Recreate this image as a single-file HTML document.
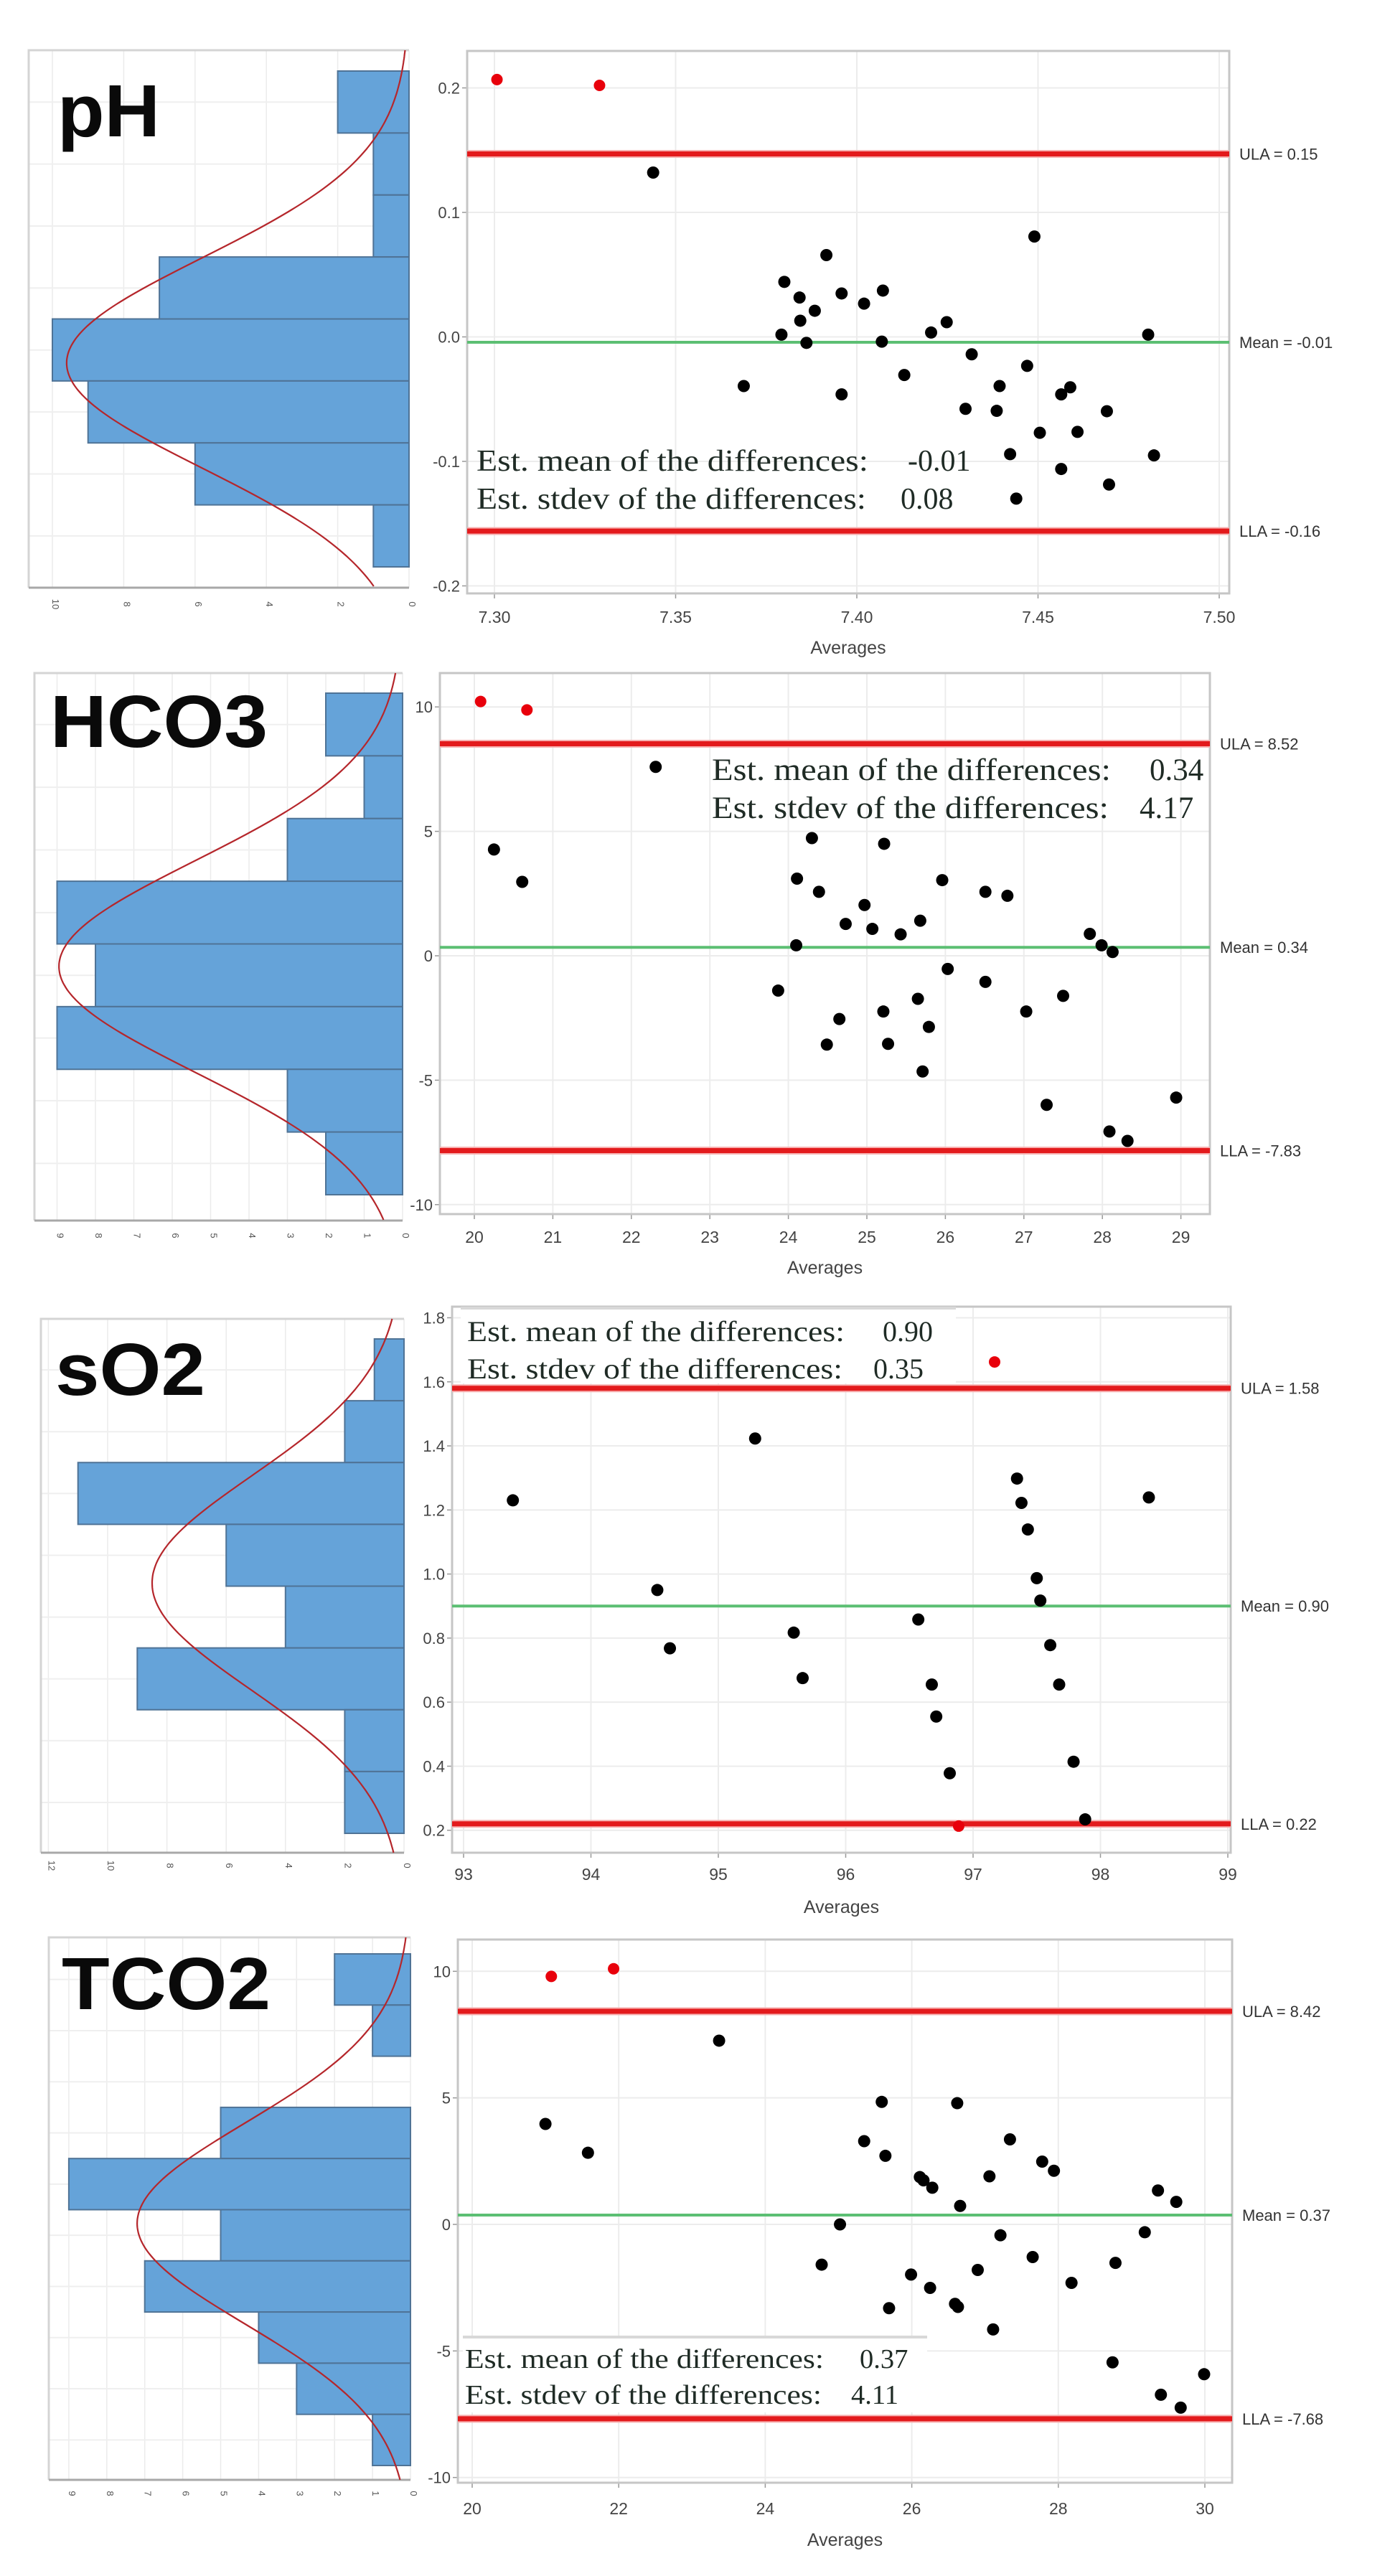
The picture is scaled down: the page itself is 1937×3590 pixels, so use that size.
<!DOCTYPE html>
<html><head><meta charset="utf-8">
<style>
html,body{margin:0;padding:0;background:#fff;}
svg{display:block;}
text{font-family:"Liberation Sans",sans-serif;}
text.serif{font-family:"Liberation Serif",serif;}
</style></head>
<body>
<svg id="chart" xmlns="http://www.w3.org/2000/svg" width="1937" height="3590" viewBox="0 0 1937 3590"></svg>
<script>
// ---------- DATA ----------
// pH
const phX = [7.3438,7.449,7.3916,7.380,7.3958,7.4072,7.3842,7.402,7.3884,7.3844,7.4248,7.3792,7.4205,7.4804,7.3861,7.4069,7.4317,7.447,7.4131,7.3688,7.3958,7.4394,7.4589,7.4564,7.43,7.4386,7.469,7.4505,7.4609,7.4423,7.482,7.4564,7.4696,7.444];
const phY = [0.132,0.0806,0.0657,0.0442,0.0349,0.0372,0.0316,0.0267,0.021,0.013,0.0118,0.0018,0.0035,0.0018,-0.0048,-0.0038,-0.014,-0.0233,-0.0306,-0.0395,-0.0462,-0.0395,-0.0405,-0.0462,-0.0578,-0.0594,-0.0597,-0.077,-0.0763,-0.0942,-0.0952,-0.1061,-0.1186,-0.1299];
const phRedX = [7.3007,7.329];
const phRedY = [0.2067,0.202];
const phLimits = [0.147,-0.0043,-0.156];
const phLimitLabels = ["ULA = 0.15","Mean = -0.01","LLA = -0.16"];
const phCounts = [2,1,1,7,10,9,6,1];
const phCurve = [4.71,1.69,9.6];
const phXTicks = [7.30,7.35,7.40,7.45,7.50];
const phXTickLabels = ["7.30","7.35","7.40","7.45","7.50"];
const phYTicks = [0.2,0.1,0.0,-0.1,-0.2];
const phYTickLabels = ["0.2","0.1","0.0","-0.1","-0.2"];
const phHistTicks = [0,2,4,6,8,10];
const phStats = ["-0.01","0.08"];

// HCO3
const hcX = [22.31,20.25,20.61,24.30,25.22,24.11,25.96,24.39,26.51,26.79,24.97,24.73,25.07,25.68,25.43,27.84,24.10,27.99,28.13,26.03,26.51,23.87,25.65,27.50,25.21,27.03,24.65,25.79,24.49,25.27,25.71,27.29,28.94,28.09,28.32];
const hcY = [7.59,4.27,2.97,4.73,4.50,3.10,3.04,2.57,2.57,2.41,2.04,1.28,1.08,1.41,0.86,0.88,0.42,0.42,0.15,-0.53,-1.05,-1.40,-1.73,-1.61,-2.24,-2.24,-2.54,-2.86,-3.57,-3.54,-4.65,-5.99,-5.70,-7.06,-7.44];
const hcRedX = [20.08,20.67];
const hcRedY = [10.22,9.88];
const hcLimits = [8.52,0.34,-7.83];
const hcLimitLabels = ["ULA = 8.52","Mean = 0.34","LLA = -7.83"];
const hcCounts = [2,1,3,9,8,9,3,2];
const hcCurve = [4.36,1.68,8.95];
const hcXTicks = [20,21,22,23,24,25,26,27,28,29];
const hcXTickLabels = ["20","21","22","23","24","25","26","27","28","29"];
const hcYTicks = [10,5,0,-5,-10];
const hcYTickLabels = ["10","5","0","-5","-10"];
const hcHistTicks = [0,1,2,3,4,5,6,7,8,9];
const hcStats = ["0.34","4.17"];

// sO2
const soX = [95.289,93.387,97.345,97.380,98.380,97.430,97.500,94.521,97.528,96.570,95.592,94.620,97.606,95.662,96.676,97.676,96.711,97.789,96.817,97.880];
const soY = [1.423,1.230,1.298,1.222,1.239,1.139,0.987,0.950,0.917,0.858,0.817,0.768,0.778,0.675,0.655,0.655,0.555,0.414,0.378,0.234];
const soRedX = [97.169,96.887];
const soRedY = [1.662,0.213];
const soLimits = [1.58,0.90,0.22];
const soLimitLabels = ["ULA = 1.58","Mean = 0.90","LLA = 0.22"];
const soCounts = [1,2,11,6,4,9,2,2];
const soCurve = [3.95,1.73,8.5];
const soXTicks = [93,94,95,96,97,98,99];
const soXTickLabels = ["93","94","95","96","97","98","99"];
const soYTicks = [1.8,1.6,1.4,1.2,1.0,0.8,0.6,0.4,0.2];
const soYTickLabels = ["1.8","1.6","1.4","1.2","1.0","0.8","0.6","0.4","0.2"];
const soHistTicks = [0,2,4,6,8,10,12];
const soStats = ["0.90","0.35"];

// TCO2
const tcX = [23.37,21.00,21.58,25.59,26.62,25.35,27.34,25.64,27.78,27.94,26.11,27.06,26.16,26.28,29.36,29.61,26.66,25.02,27.21,29.18,27.65,24.77,28.78,25.99,26.90,26.25,28.18,26.59,26.63,25.69,27.11,28.74,29.99,29.40,29.67];
const tcY = [7.26,3.97,2.83,4.84,4.79,3.29,3.36,2.71,2.48,2.12,1.87,1.90,1.74,1.45,1.34,0.89,0.73,0.00,-0.43,-0.31,-1.29,-1.59,-1.52,-1.98,-1.80,-2.51,-2.31,-3.14,-3.26,-3.31,-4.15,-5.45,-5.92,-6.73,-7.24];
const tcRedX = [21.08,21.93];
const tcRedY = [9.80,10.10];
const tcLimits = [8.42,0.37,-7.68];
const tcLimitLabels = ["ULA = 8.42","Mean = 0.37","LLA = -7.68"];
const tcCounts = [2,1,0,5,9,5,7,4,3,1];
const tcCurve = [5.27,1.96,7.2];
const tcXTicks = [20,22,24,26,28,30];
const tcXTickLabels = ["20","22","24","26","28","30"];
const tcYTicks = [10,5,0,-5,-10];
const tcYTickLabels = ["10","5","0","-5","-10"];
const tcHistTicks = [0,1,2,3,4,5,6,7,8,9];
const tcStats = ["0.37","4.11"];

// ---------- LAYOUT (pixel geometry) ----------
const panels = [
 {key:"ph", title:"pH", tx:80, ty:190, tw:143,
  h:{L:40,R:570,T:70,B:819,b0:99,b1:790,unit:49.7},
  s:{L:651,R:1713,T:71,B:827,x0:689,xv0:7.30,kx:5050,y0:469.5,yv0:0,ky:1735},
  x:phX,y:phY,rx:phRedX,ry:phRedY,lim:phLimits,limL:phLimitLabels,counts:phCounts,curve:phCurve,
  xt:phXTicks,xtl:phXTickLabels,yt:phYTicks,ytl:phYTickLabels,ht:phHistTicks,stats:phStats,
  ann:{x:664,b1:656,b2:709,w:546,fs:42,v1:1265,v2:1255},box:null,avgY:911,xtY:868,htY:842},
 {key:"hco3", title:"HCO3", tx:70, ty:1041, tw:303,
  h:{L:48,R:561,T:938,B:1701,b0:966,b1:1665,unit:53.5},
  s:{L:613,R:1686,T:938,B:1692,x0:661,xv0:20,kx:109.4,y0:1332,yv0:0,ky:34.68},
  x:hcX,y:hcY,rx:hcRedX,ry:hcRedY,lim:hcLimits,limL:hcLimitLabels,counts:hcCounts,curve:hcCurve,
  xt:hcXTicks,xtl:hcXTickLabels,yt:hcYTicks,ytl:hcYTickLabels,ht:hcHistTicks,stats:hcStats,
  ann:{x:992,b1:1087,b2:1140,w:556,fs:43,v1:1602,v2:1588},box:null,avgY:1775,xtY:1732,htY:1722},
 {key:"so2", title:"sO2", tx:77, ty:1944, tw:209,
  h:{L:57,R:563,T:1838,B:2582,b0:1866,b1:2555,unit:41.3},
  s:{L:630,R:1715,T:1821,B:2582,x0:646,xv0:93,kx:177.5,y0:2193.6,yv0:1,ky:446.4},
  x:soX,y:soY,rx:soRedX,ry:soRedY,lim:soLimits,limL:soLimitLabels,counts:soCounts,curve:soCurve,
  xt:soXTicks,xtl:soXTickLabels,yt:soYTicks,ytl:soYTickLabels,ht:soHistTicks,stats:soStats,
  ann:{x:651,b1:1869,b2:1921,w:526,fs:40,v1:1230,v2:1217},box:{x:642,y:1823,w:690,h:105},avgY:2666,xtY:2620,htY:2600},
 {key:"tco2", title:"TCO2", tx:86, ty:2800, tw:291,
  h:{L:68,R:572,T:2700,B:3456,b0:2723,b1:3436,unit:52.9},
  s:{L:638,R:1717,T:2703,B:3460,x0:658,xv0:20,kx:102.1,y0:3100,yv0:0,ky:35.27},
  x:tcX,y:tcY,rx:tcRedX,ry:tcRedY,lim:tcLimits,limL:tcLimitLabels,counts:tcCounts,curve:tcCurve,
  xt:tcXTicks,xtl:tcXTickLabels,yt:tcYTicks,ytl:tcYTickLabels,ht:tcHistTicks,stats:tcStats,
  ann:{x:648,b1:3300,b2:3350,w:500,fs:38.5,v1:1198,v2:1186},box:{x:645,y:3257,w:647,h:105},avgY:3548,xtY:3504,htY:3475}
];

const NS="http://www.w3.org/2000/svg";
const svg=document.getElementById("chart");
function mk(tag,attrs,parent){const e=document.createElementNS(NS,tag);for(const k in attrs)e.setAttribute(k,attrs[k]);(parent||svg).appendChild(e);return e;}

panels.forEach(p=>{
  const g=mk("g",{});
  
  

  // ---------- histogram ----------
  const H=p.h;
  const hg=mk("g",{},g);
  
  
  const cx=c=>H.R-c*H.unit;
  const n=p.counts.length, bh=(H.b1-H.b0)/n;
  p.ht.forEach(t=>{
    const l=mk("line",{x1:cx(t),x2:cx(t),y1:H.T,y2:H.B,stroke:"#ebebeb","stroke-width":1.5},hg);
    
    
  });
  for(let i=0;i<=n;i++){
    const yy=H.b0+(i+0.5)*bh;
    if(yy<H.B-5){const l=mk("line",{x1:H.L,x2:H.R,y1:yy,y2:yy,stroke:"#efefef","stroke-width":2},hg);
    
    }
  }
  const fr=mk("path",{d:`M${H.L} ${H.B} L${H.L} ${H.T} L${H.R} ${H.T}`,fill:"none",stroke:"#d4d4d4","stroke-width":3},hg);
  
  
  p.counts.forEach((c,i)=>{
    if(c<=0)return;
    const r=mk("rect",{x:cx(c),y:H.b0+i*bh,width:c*H.unit,height:bh,fill:"#65a3d9",stroke:"#4f7396","stroke-width":2},hg);
    
    
  });
  const ax=mk("line",{x1:H.L,x2:H.R,y1:H.B,y2:H.B,stroke:"#a8a8a8","stroke-width":3},hg);
  
  
  p.ht.forEach(t=>{
    const tl=mk("text",{x:0,y:0,"font-size":13,fill:"#555","text-anchor":"middle",transform:`translate(${cx(t)},${p.htY}) rotate(90)`},hg);
    tl.textContent=String(t);
    
    
  });
  const [mu,sd,pk]=p.curve;
  let d="";
  for(let yy=H.T;yy<=H.B;yy+=3){
    const bi=(yy-H.b0)/bh;
    const c=pk*Math.exp(-((bi-mu)**2)/(2*sd*sd));
    d+=(d?"L":"M")+cx(c).toFixed(1)+" "+yy+" ";
  }
  const cv=mk("path",{d:d,fill:"none",stroke:"#b5262b","stroke-width":2.2},hg);
  
  

  const tt=mk("text",{x:p.tx,y:p.ty,"font-size":103,"font-weight":"bold",fill:"#0a0a0a",textLength:p.tw,lengthAdjust:"spacingAndGlyphs"},g);
  tt.textContent=p.title;
  
  

  // ---------- scatter ----------
  const S=p.s;
  const sg=mk("g",{},g);
  
  
  const xs=v=>S.x0+(v-S.xv0)*S.kx;
  const ys=v=>S.y0-(v-S.yv0)*S.ky;
  p.xt.forEach((t,i)=>{
    const l=mk("line",{x1:xs(t),x2:xs(t),y1:S.T,y2:S.B,stroke:"#ececec","stroke-width":2},sg);
    
    
    const tk=mk("line",{x1:xs(t),x2:xs(t),y1:S.B,y2:S.B+7,stroke:"#999","stroke-width":1.5},sg);
    
    
    const tl=mk("text",{x:xs(t),y:p.xtY,"font-size":23,fill:"#444","text-anchor":"middle"},sg);
    tl.textContent=p.xtl[i];
    
    
  });
  p.yt.forEach((t,i)=>{
    const l=mk("line",{x1:S.L,x2:S.R,y1:ys(t),y2:ys(t),stroke:"#ececec","stroke-width":2},sg);
    
    
    const tk=mk("line",{x1:S.L-7,x2:S.L,y1:ys(t),y2:ys(t),stroke:"#999","stroke-width":1.5},sg);
    
    
    const tl=mk("text",{x:S.L-10,y:ys(t)+8,"font-size":22,fill:"#444","text-anchor":"end"},sg);
    tl.textContent=p.ytl[i];
    
    
  });
  const sf=mk("rect",{x:S.L,y:S.T,width:S.R-S.L,height:S.B-S.T,fill:"none",stroke:"#c6c6c6","stroke-width":3},sg);
  
  
  const cols=["#e31a1c","#5cbf73","#e31a1c"];
  const wid=[7,4,7];
  const names=["ula-line","mean-line","lla-line"];
  p.lim.forEach((v,i)=>{
    if(i!==1){const halo=mk("line",{x1:S.L,x2:S.R,y1:ys(v),y2:ys(v),stroke:"#f7b0b0","stroke-width":11},sg);
      
      }
    const l=mk("line",{x1:S.L,x2:S.R,y1:ys(v),y2:ys(v),stroke:cols[i],"stroke-width":wid[i]},sg);
    
    
    const tl=mk("text",{x:S.R+14,y:ys(v)+8,"font-size":22,fill:"#333"},sg);
    tl.textContent=p.limL[i];
    
    
  });
  if(p.box){
    const b=mk("rect",{x:p.box.x,y:p.box.y,width:p.box.w,height:p.box.h,fill:"#fff"},sg);
    
    
    const bl=mk("line",{x1:p.box.x,x2:p.box.x+p.box.w,y1:p.box.y,y2:p.box.y,stroke:"#d8d8d8","stroke-width":4},sg);
    
    
  }
  p.x.forEach((v,i)=>{
    const c=mk("circle",{cx:xs(v),cy:ys(p.y[i]),r:8.5,fill:"#000"},sg);
    
    
  });
  p.rx.forEach((v,i)=>{
    const c=mk("circle",{cx:xs(v),cy:ys(p.ry[i]),r:8,fill:"#e8000b"},sg);
    
    
  });
  const A=p.ann;
  const l1=mk("text",{class:"serif",x:A.x,y:A.b1,"font-size":A.fs,fill:"#1f2b25",textLength:A.w,lengthAdjust:"spacingAndGlyphs"},sg);
  l1.textContent="Est. mean of the differences:";
  
  
  const v1=mk("text",{class:"serif",x:A.v1,y:A.b1,"font-size":A.fs,fill:"#1f2b25"},sg);
  v1.textContent=p.stats[0];
  
  
  const l2=mk("text",{class:"serif",x:A.x,y:A.b2,"font-size":A.fs,fill:"#1f2b25",textLength:A.w-3,lengthAdjust:"spacingAndGlyphs"},sg);
  l2.textContent="Est. stdev of the differences:";
  
  
  const v2=mk("text",{class:"serif",x:A.v2,y:A.b2,"font-size":A.fs,fill:"#1f2b25"},sg);
  v2.textContent=p.stats[1];
  
  
  const at=mk("text",{x:(S.L+S.R)/2,y:p.avgY,"font-size":25,fill:"#444","text-anchor":"middle"},sg);
  at.textContent="Averages";
  
  
});
</script>
</body></html>
